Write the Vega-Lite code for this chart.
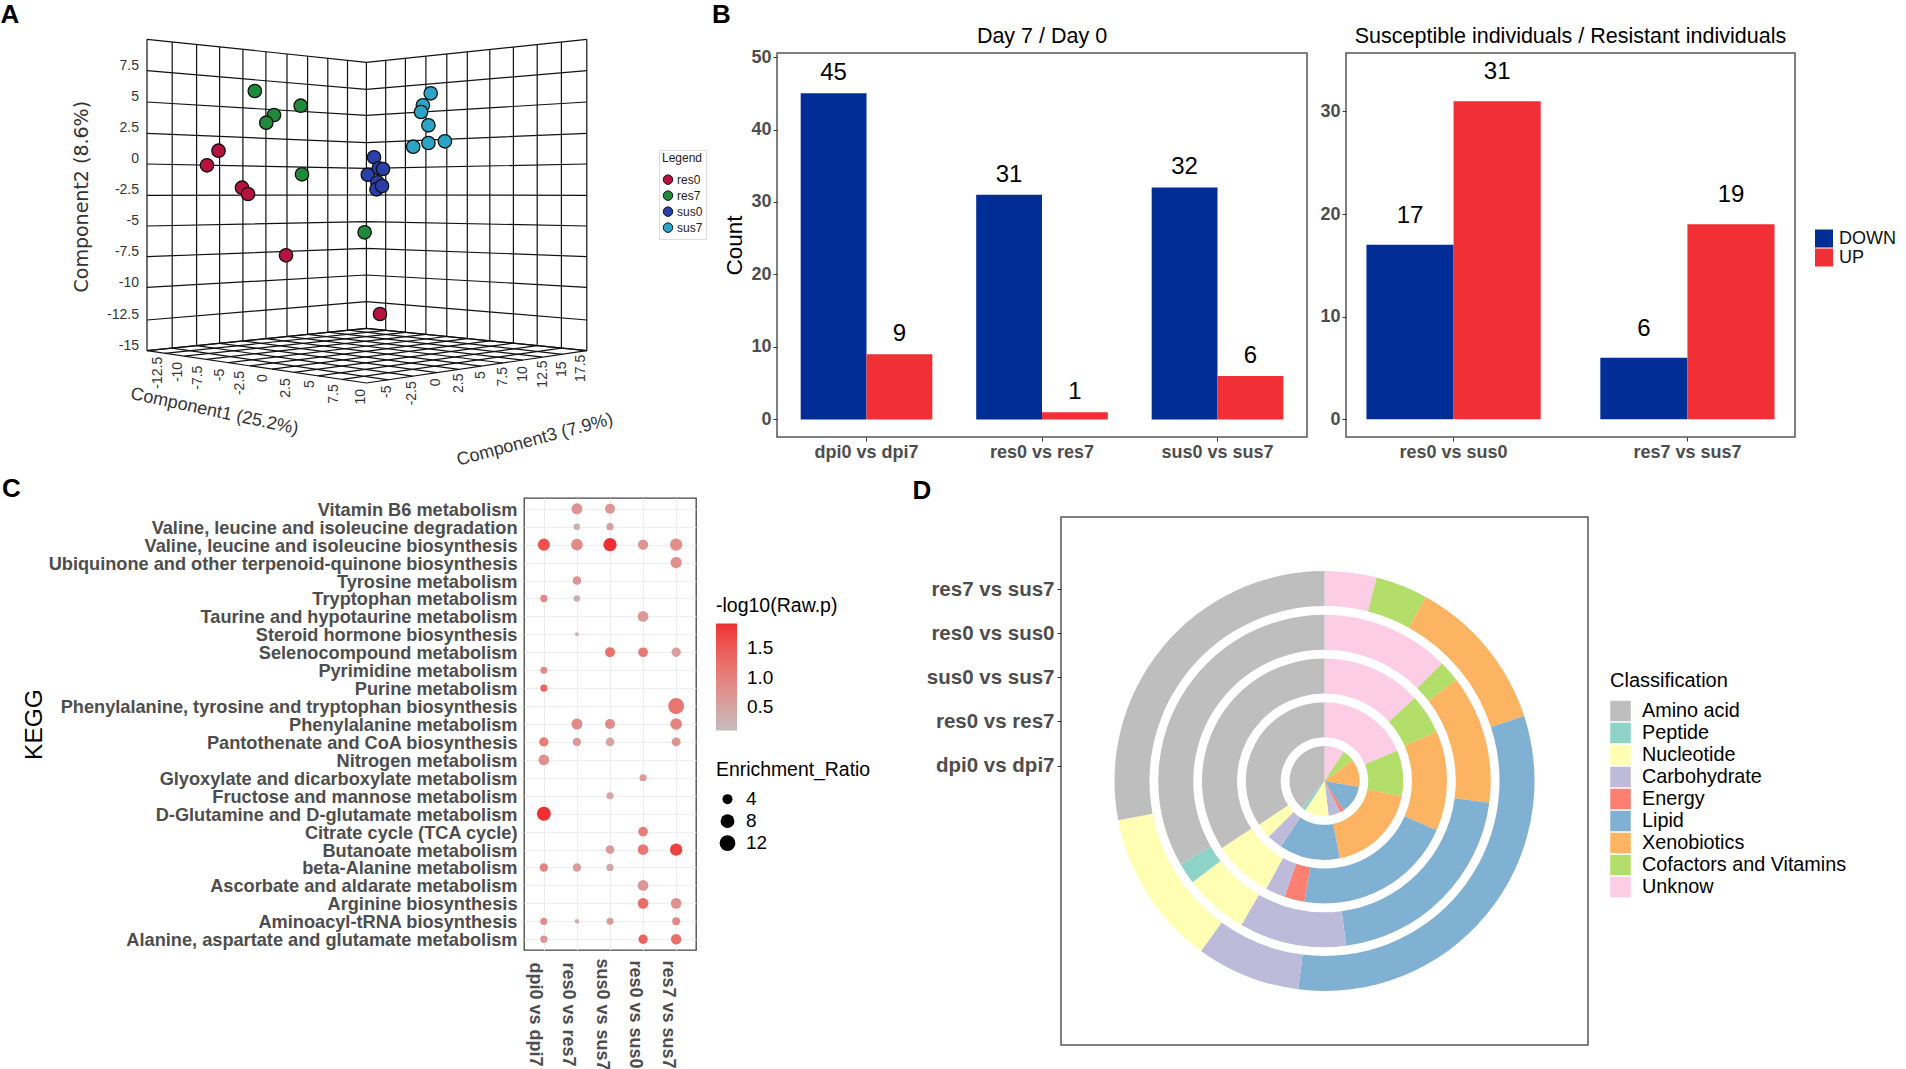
{"$schema":"https://vega.github.io/schema/vega-lite/v6.json","background":"white","padding":0,"bounds":"flush","spacing":0,"resolve":{"scale":{"color":"independent","size":"independent","xOffset":"independent"}},
"config":{"font":"Liberation Sans","view":{"stroke":null},"axis":{"labelColor":"#4d4d4d","labelFontWeight":"bold","tickColor":"#333333"}},
"datasets":{
"grid":[
{"l":"a1","s":0,"x":147,"y":39.3},{"l":"a1","s":1,"x":147,"y":350.7},{"l":"a2","s":0,"x":172.2,"y":41.9},{"l":"a2","s":1,"x":172.2,"y":348.1},{"l":"a3","s":0,"x":196.6,"y":44.5},{"l":"a3","s":1,"x":196.6,"y":345.6},{"l":"a4","s":0,"x":219.6,"y":46.9},{"l":"a4","s":1,"x":219.6,"y":343.3},{"l":"a5","s":0,"x":242.9,"y":49.4},{"l":"a5","s":1,"x":242.9,"y":340.9},{"l":"a6","s":0,"x":265.9,"y":51.8},{"l":"a6","s":1,"x":265.9,"y":338.6},{"l":"a7","s":0,"x":287,"y":54},{"l":"a7","s":1,"x":287,"y":336.4},{"l":"a8","s":0,"x":307.6,"y":56.1},{"l":"a8","s":1,"x":307.6,"y":334.3},{"l":"a9","s":0,"x":327.8,"y":58.3},{"l":"a9","s":1,"x":327.8,"y":332.2},{"l":"a10","s":0,"x":347.5,"y":60.3},{"l":"a10","s":1,"x":347.5,"y":330.2},{"l":"a11","s":0,"x":366.4,"y":62.3},{"l":"a11","s":1,"x":366.4,"y":328.3},
{"l":"b1","s":0,"x":385.7,"y":60.3},{"l":"b1","s":1,"x":385.7,"y":330.3},{"l":"b2","s":0,"x":405.4,"y":58.2},{"l":"b2","s":1,"x":405.4,"y":332.3},{"l":"b3","s":0,"x":425.9,"y":56.1},{"l":"b3","s":1,"x":425.9,"y":334.3},{"l":"b4","s":0,"x":446.8,"y":53.9},{"l":"b4","s":1,"x":446.8,"y":336.5},{"l":"b5","s":0,"x":467.3,"y":51.8},{"l":"b5","s":1,"x":467.3,"y":338.6},{"l":"b6","s":0,"x":489.8,"y":49.4},{"l":"b6","s":1,"x":489.8,"y":340.8},{"l":"b7","s":0,"x":513.4,"y":47},{"l":"b7","s":1,"x":513.4,"y":343.2},{"l":"b8","s":0,"x":537.2,"y":44.5},{"l":"b8","s":1,"x":537.2,"y":345.7},{"l":"b9","s":0,"x":561.4,"y":41.9},{"l":"b9","s":1,"x":561.4,"y":348.1},{"l":"b10","s":0,"x":586.8,"y":39.3},{"l":"b10","s":1,"x":586.8,"y":350.7},
{"l":"h1","s":0,"x":147,"y":39.3},{"l":"h1","s":1,"x":366.4,"y":62.3},{"l":"h1","s":2,"x":586.8,"y":39.3},{"l":"h2","s":0,"x":147,"y":70.7},{"l":"h2","s":1,"x":366.4,"y":89.3},{"l":"h2","s":2,"x":586.8,"y":70.7},{"l":"h3","s":0,"x":147,"y":102},{"l":"h3","s":1,"x":366.4,"y":115.3},{"l":"h3","s":2,"x":586.8,"y":102},{"l":"h4","s":0,"x":147,"y":133.3},{"l":"h4","s":1,"x":366.4,"y":142.7},{"l":"h4","s":2,"x":586.8,"y":133.3},{"l":"h5","s":0,"x":147,"y":164},{"l":"h5","s":1,"x":366.4,"y":168.3},{"l":"h5","s":2,"x":586.8,"y":164},{"l":"h6","s":0,"x":147,"y":195.3},{"l":"h6","s":1,"x":366.4,"y":195},{"l":"h6","s":2,"x":586.8,"y":195.3},{"l":"h7","s":0,"x":147,"y":226},{"l":"h7","s":1,"x":366.4,"y":221.7},{"l":"h7","s":2,"x":586.8,"y":226},{"l":"h8","s":0,"x":147,"y":256.7},{"l":"h8","s":1,"x":366.4,"y":248.3},{"l":"h8","s":2,"x":586.8,"y":256.7},{"l":"h9","s":0,"x":147,"y":287.3},{"l":"h9","s":1,"x":366.4,"y":275},{"l":"h9","s":2,"x":586.8,"y":287.3},{"l":"h10","s":0,"x":147,"y":320},{"l":"h10","s":1,"x":366.4,"y":301.7},{"l":"h10","s":2,"x":586.8,"y":320},{"l":"h11","s":0,"x":147,"y":350.7},{"l":"h11","s":1,"x":366.4,"y":328.3},{"l":"h11","s":2,"x":586.8,"y":350.7},
{"l":"p0","s":0,"x":147,"y":350.7},{"l":"p0","s":1,"x":366.4,"y":383},{"l":"p1","s":0,"x":172.2,"y":348.1},{"l":"p1","s":1,"x":388.4,"y":379.8},{"l":"p2","s":0,"x":196.6,"y":345.6},{"l":"p2","s":1,"x":412.7,"y":376.2},{"l":"p3","s":0,"x":219.6,"y":343.3},{"l":"p3","s":1,"x":436.9,"y":372.7},{"l":"p4","s":0,"x":242.9,"y":340.9},{"l":"p4","s":1,"x":459,"y":369.4},{"l":"p5","s":0,"x":265.9,"y":338.6},{"l":"p5","s":1,"x":481,"y":366.2},{"l":"p6","s":0,"x":287,"y":336.4},{"l":"p6","s":1,"x":503,"y":363},{"l":"p7","s":0,"x":307.6,"y":334.3},{"l":"p7","s":1,"x":522.9,"y":360.1},{"l":"p8","s":0,"x":327.8,"y":332.2},{"l":"p8","s":1,"x":542.7,"y":357.2},{"l":"p9","s":0,"x":347.5,"y":330.2},{"l":"p9","s":1,"x":562.6,"y":354.3},{"l":"p10","s":0,"x":366.4,"y":328.3},{"l":"p10","s":1,"x":586.8,"y":350.7},
{"l":"q0","s":0,"x":366.4,"y":328.3},{"l":"q0","s":1,"x":147,"y":350.7},{"l":"q1","s":0,"x":385.7,"y":330.3},{"l":"q1","s":1,"x":164.6,"y":353.3},{"l":"q2","s":0,"x":405.4,"y":332.3},{"l":"q2","s":1,"x":184.3,"y":356.2},{"l":"q3","s":0,"x":425.9,"y":334.3},{"l":"q3","s":1,"x":206.2,"y":359.4},{"l":"q4","s":0,"x":446.8,"y":336.5},{"l":"q4","s":1,"x":228.2,"y":362.7},{"l":"q5","s":0,"x":467.3,"y":338.6},{"l":"q5","s":1,"x":250.1,"y":365.9},{"l":"q6","s":0,"x":489.8,"y":340.8},{"l":"q6","s":1,"x":272.1,"y":369.1},{"l":"q7","s":0,"x":513.4,"y":343.2},{"l":"q7","s":1,"x":294,"y":372.3},{"l":"q8","s":0,"x":537.2,"y":345.7},{"l":"q8","s":1,"x":318.1,"y":375.9},{"l":"q9","s":0,"x":561.4,"y":348.1},{"l":"q9","s":1,"x":342.3,"y":379.4},{"l":"q10","s":0,"x":586.8,"y":350.7},{"l":"q10","s":1,"x":366.4,"y":383}],
"down":[{"comparison":"dpi0 vs dpi7","direction":"DOWN","count":45},{"comparison":"dpi0 vs dpi7","direction":"UP","count":9},{"comparison":"res0 vs res7","direction":"DOWN","count":31},{"comparison":"res0 vs res7","direction":"UP","count":1},{"comparison":"sus0 vs sus7","direction":"DOWN","count":32},{"comparison":"sus0 vs sus7","direction":"UP","count":6}],
"between":[{"comparison":"res0 vs sus0","direction":"DOWN","count":17},{"comparison":"res0 vs sus0","direction":"UP","count":31},{"comparison":"res7 vs sus7","direction":"DOWN","count":6},{"comparison":"res7 vs sus7","direction":"UP","count":19}]
},
"hconcat":[
{"bounds":"flush","spacing":0,"resolve":{"scale":{"color":"independent","size":"independent","xOffset":"independent"}},"vconcat":[
{"width":738,"height":480,
"encoding":{"x":{"field":"x","type":"quantitative","axis":null,"scale":{"domain":[0,738],"nice":false,"zero":false}},"y":{"field":"y","type":"quantitative","axis":null,"scale":{"domain":[480,0],"nice":false,"zero":false}}},
"layer":[
{"data":{"name":"grid"},"mark":{"type":"line","color":"#111111","strokeWidth":1.2},"encoding":{"detail":{"field":"l"},"order":{"field":"s"}}},
{"data":{"values":[
{"x":218.5,"y":150.7,"group":"res0"},{"x":207,"y":165.3,"group":"res0"},{"x":242,"y":187.7,"group":"res0"},{"x":248,"y":194,"group":"res0"},{"x":286,"y":255.3,"group":"res0"},{"x":380,"y":314,"group":"res0"},
{"x":254.8,"y":91,"group":"res7"},{"x":300.7,"y":105.7,"group":"res7"},{"x":274,"y":115,"group":"res7"},{"x":266.3,"y":122.7,"group":"res7"},{"x":302,"y":174.3,"group":"res7"},{"x":364.6,"y":232.3,"group":"res7"},
{"x":374,"y":157.3,"group":"sus0"},{"x":378.8,"y":168.3,"group":"sus0"},{"x":383,"y":169,"group":"sus0"},{"x":367.8,"y":174.7,"group":"sus0"},{"x":377.4,"y":182.3,"group":"sus0"},{"x":376.5,"y":189.3,"group":"sus0"},{"x":382,"y":186,"group":"sus0"},
{"x":430.7,"y":93.3,"group":"sus7"},{"x":422.9,"y":105.3,"group":"sus7"},{"x":421,"y":112,"group":"sus7"},{"x":428.4,"y":125.3,"group":"sus7"},{"x":444.9,"y":141.3,"group":"sus7"},{"x":428.4,"y":143,"group":"sus7"},{"x":413.2,"y":146.7,"group":"sus7"}]},
"mark":{"type":"point","filled":true,"size":180,"stroke":"#111111","strokeWidth":1.3,"opacity":1},
"encoding":{"color":{"field":"group","type":"nominal","scale":{"domain":["res0","res7","sus0","sus7"],"range":["#b5123f","#1e8a3a","#2a3fa8","#2aa5c5"]},"legend":{"orient":"none","legendX":659,"legendY":150,"title":"Legend","titleFontSize":12,"titleFontWeight":"normal","titleColor":"#222222","titlePadding":7,"labelFontSize":12,"labelColor":"#222222","symbolType":"circle","symbolSize":90,"symbolStrokeColor":"#111111","symbolStrokeWidth":1,"symbolOpacity":1,"clipHeight":15.3,"rowPadding":0,"labelOffset":3,"padding":3,"strokeColor":"#dddddd"}}}},
{"data":{"values":[{"t":"7.5","x":139,"y":66},{"t":"5","x":139,"y":96.7},{"t":"2.5","x":139,"y":128},{"t":"0","x":139,"y":159},{"t":"-2.5","x":139,"y":190},{"t":"-5","x":139,"y":221},{"t":"-7.5","x":139,"y":252},{"t":"-10","x":139,"y":283},{"t":"-12.5","x":139,"y":315},{"t":"-15","x":139,"y":345.7}]},
"mark":{"type":"text","align":"right","baseline":"middle","fontSize":14,"color":"#333333"},"encoding":{"text":{"field":"t"}}},
{"data":{"values":[{"t":"-12.5","x":158.4,"y":372.7},{"t":"-10","x":178,"y":372},{"t":"-7.5","x":198.3,"y":377.7},{"t":"-5","x":219.5,"y":375},{"t":"-2.5","x":240,"y":383},{"t":"0","x":262.6,"y":378},{"t":"2.5","x":285.6,"y":388},{"t":"5","x":310,"y":384},{"t":"7.5","x":334,"y":394},{"t":"10","x":361,"y":396.7},{"t":"-5","x":387,"y":391.7},{"t":"-2.5","x":411.8,"y":393.3},{"t":"0","x":436,"y":382.3},{"t":"2.5","x":459,"y":383.3},{"t":"5","x":480.7,"y":375},{"t":"7.5","x":502.8,"y":376.7},{"t":"10","x":523.4,"y":374},{"t":"12.5","x":543,"y":374},{"t":"15","x":562.4,"y":369.3},{"t":"17.5","x":580.8,"y":368.3}]},
"mark":{"type":"text","align":"center","baseline":"middle","fontSize":14,"angle":270,"color":"#333333"},"encoding":{"text":{"field":"t"}}},
{"data":{"values":[{"t":"Component1 (25.2%)","x":214.4,"y":411.7}]},"mark":{"type":"text","fontSize":18,"angle":12,"baseline":"middle","color":"#333333"},"encoding":{"text":{"field":"t"}}},
{"data":{"values":[{"t":"Component3 (7.9%)","x":535,"y":440}]},"mark":{"type":"text","fontSize":18,"angle":345,"baseline":"middle","color":"#333333"},"encoding":{"text":{"field":"t"}}},
{"data":{"values":[{"t":"Component2 (8.6%)","x":81.7,"y":196.7}]},"mark":{"type":"text","font":"DejaVu Sans","fontSize":19,"angle":270,"baseline":"middle","color":"#333333"},"encoding":{"text":{"field":"t"}}},
{"data":{"values":[{"t":"A","x":10,"y":15},{"t":"B","x":721.5,"y":15},{"t":"C","x":11.5,"y":489},{"t":"D","x":922,"y":490.5}]},"mark":{"type":"text","fontSize":26,"fontWeight":"bold","baseline":"middle","color":"#000000"},"encoding":{"text":{"field":"t"}}}
]}]},
{"bounds":"flush","spacing":0,"resolve":{"scale":{"color":"independent","size":"independent","xOffset":"independent"}},"hconcat":[{"width":777,"height":1,"data":{"values":[{"a":1}]},"mark":{"type":"point","opacity":0,"size":1}},{"bounds":"flush","spacing":0,"resolve":{"scale":{"color":"independent","size":"independent","xOffset":"independent"}},"vconcat":[{"width":1,"height":53,"data":{"values":[{"a":1}]},"mark":{"type":"point","opacity":0,"size":1}},
{"width":530,"height":384,"data":{"name":"down"},"title":{"text":"Day 7 / Day 0","fontSize":21.5,"fontWeight":"normal","offset":1,"anchor":"middle"},"view":{"stroke":"#555555","strokeWidth":1.5},
"encoding":{"x":{"field":"comparison","type":"nominal","title":null,"scale":{"paddingInner":0.25,"paddingOuter":0.135},"axis":{"labelAngle":0,"labelFontSize":18,"tickSize":4,"labelPadding":2,"domain":false,"grid":false}},
"xOffset":{"field":"direction","type":"nominal"},
"y":{"field":"count","type":"quantitative","stack":null,"scale":{"domain":[-2.43,50.56],"nice":false,"zero":false},"axis":{"values":[0,10,20,30,40,50],"labelFontSize":18,"tickSize":4,"labelPadding":2,"domain":false,"grid":false,"title":"Count","titleFontSize":22.5,"titleFontWeight":"normal","titleColor":"#000000","titleX":-31,"titleY":192}}},
"layer":[{"mark":{"type":"bar"},"encoding":{"y2":{"datum":0},"color":{"field":"direction","type":"nominal","scale":{"domain":["DOWN","UP"],"range":["#002e96","#f13035"]},"legend":null}}},
{"mark":{"type":"text","fontSize":24,"dy":-20,"baseline":"middle","color":"#000000"},"encoding":{"text":{"field":"count","type":"quantitative"}}}]}]}]},
{"bounds":"flush","spacing":0,"resolve":{"scale":{"color":"independent","size":"independent","xOffset":"independent"}},"hconcat":[{"width":1346,"height":1,"data":{"values":[{"a":1}]},"mark":{"type":"point","opacity":0,"size":1}},{"bounds":"flush","spacing":0,"resolve":{"scale":{"color":"independent","size":"independent","xOffset":"independent"}},"vconcat":[{"width":1,"height":53,"data":{"values":[{"a":1}]},"mark":{"type":"point","opacity":0,"size":1}},
{"width":449,"height":384,"data":{"name":"between"},"title":{"text":"Susceptible individuals / Resistant individuals","fontSize":21.5,"fontWeight":"normal","offset":6,"anchor":"middle"},"view":{"stroke":"#555555","strokeWidth":1.5},
"encoding":{"x":{"field":"comparison","type":"nominal","title":null,"scale":{"paddingInner":0.255,"paddingOuter":0.0875},"axis":{"labelAngle":0,"labelFontSize":18,"tickSize":4,"labelPadding":2,"domain":false,"grid":false}},
"xOffset":{"field":"direction","type":"nominal"},
"y":{"field":"count","type":"quantitative","stack":null,"title":null,"scale":{"domain":[-1.73,35.7],"nice":false,"zero":false},"axis":{"values":[0,10,20,30],"labelFontSize":18,"tickSize":4,"labelPadding":2,"domain":false,"grid":false}}},
"layer":[{"mark":{"type":"bar"},"encoding":{"y2":{"datum":0},"color":{"field":"direction","type":"nominal","scale":{"domain":["DOWN","UP"],"range":["#002e96","#f13035"]},"legend":{"orient":"none","legendX":469,"legendY":176,"title":null,"symbolType":"square","symbolSize":324,"symbolStrokeWidth":0,"symbolOpacity":1,"labelFontSize":18,"labelColor":"#111111","clipHeight":19,"rowPadding":0,"labelOffset":6}}}},
{"mark":{"type":"text","fontSize":24,"dy":-29,"baseline":"middle","color":"#000000"},"encoding":{"text":{"field":"count","type":"quantitative"}}}]}]}]},
{"bounds":"flush","spacing":0,"resolve":{"scale":{"color":"independent","size":"independent","xOffset":"independent"}},"hconcat":[{"width":524,"height":1,"data":{"values":[{"a":1}]},"mark":{"type":"point","opacity":0,"size":1}},{"bounds":"flush","spacing":0,"resolve":{"scale":{"color":"independent","size":"independent","xOffset":"independent"}},"vconcat":[{"width":1,"height":498,"data":{"values":[{"a":1}]},"mark":{"type":"point","opacity":0,"size":1}},
{"width":172,"height":452,"view":{"stroke":"#444444","strokeWidth":1.3},
"data":{"values":[
{"p":"Vitamin B6 metabolism","c":"res0 vs res7","ratio":4.9,"log":0.7},{"p":"Vitamin B6 metabolism","c":"sus0 vs sus7","ratio":4,"log":0.7},
{"p":"Valine, leucine and isoleucine degradation","c":"res0 vs res7","ratio":2,"log":0.25},{"p":"Valine, leucine and isoleucine degradation","c":"sus0 vs sus7","ratio":2.3,"log":0.55},
{"p":"Valine, leucine and isoleucine biosynthesis","c":"dpi0 vs dpi7","ratio":6,"log":1.6},{"p":"Valine, leucine and isoleucine biosynthesis","c":"res0 vs res7","ratio":5.6,"log":0.85},{"p":"Valine, leucine and isoleucine biosynthesis","c":"sus0 vs sus7","ratio":7.4,"log":1.9},{"p":"Valine, leucine and isoleucine biosynthesis","c":"res0 vs sus0","ratio":4.3,"log":0.7},{"p":"Valine, leucine and isoleucine biosynthesis","c":"res7 vs sus7","ratio":6.3,"log":0.8},
{"p":"Ubiquinone and other terpenoid-quinone biosynthesis","c":"res7 vs sus7","ratio":5.2,"log":0.8},
{"p":"Tyrosine metabolism","c":"res0 vs res7","ratio":3.1,"log":0.7},
{"p":"Tryptophan metabolism","c":"dpi0 vs dpi7","ratio":2.3,"log":0.9},{"p":"Tryptophan metabolism","c":"res0 vs res7","ratio":2,"log":0.35},
{"p":"Taurine and hypotaurine metabolism","c":"res0 vs sus0","ratio":4.6,"log":0.65},
{"p":"Steroid hormone biosynthesis","c":"res0 vs res7","ratio":1,"log":0.2},
{"p":"Selenocompound metabolism","c":"sus0 vs sus7","ratio":4,"log":1.2},{"p":"Selenocompound metabolism","c":"res0 vs sus0","ratio":3.8,"log":1.15},{"p":"Selenocompound metabolism","c":"res7 vs sus7","ratio":3.5,"log":0.55},
{"p":"Pyrimidine metabolism","c":"dpi0 vs dpi7","ratio":2.2,"log":0.85},
{"p":"Purine metabolism","c":"dpi0 vs dpi7","ratio":2.2,"log":1.35},
{"p":"Phenylalanine, tyrosine and tryptophan biosynthesis","c":"res7 vs sus7","ratio":12.6,"log":1.15},
{"p":"Phenylalanine metabolism","c":"res0 vs res7","ratio":4.9,"log":0.85},{"p":"Phenylalanine metabolism","c":"sus0 vs sus7","ratio":4,"log":0.85},{"p":"Phenylalanine metabolism","c":"res7 vs sus7","ratio":5.6,"log":0.95},
{"p":"Pantothenate and CoA biosynthesis","c":"dpi0 vs dpi7","ratio":3.5,"log":1.05},{"p":"Pantothenate and CoA biosynthesis","c":"res0 vs res7","ratio":2.9,"log":0.65},{"p":"Pantothenate and CoA biosynthesis","c":"sus0 vs sus7","ratio":3.1,"log":0.5},{"p":"Pantothenate and CoA biosynthesis","c":"res7 vs sus7","ratio":3.3,"log":0.7},
{"p":"Nitrogen metabolism","c":"dpi0 vs dpi7","ratio":4.6,"log":0.75},
{"p":"Glyoxylate and dicarboxylate metabolism","c":"res0 vs sus0","ratio":2.2,"log":0.65},
{"p":"Fructose and mannose metabolism","c":"sus0 vs sus7","ratio":2.2,"log":0.45},
{"p":"D-Glutamine and D-glutamate metabolism","c":"dpi0 vs dpi7","ratio":8.4,"log":1.9},
{"p":"Citrate cycle (TCA cycle)","c":"res0 vs sus0","ratio":3.8,"log":1.05},
{"p":"Butanoate metabolism","c":"sus0 vs sus7","ratio":3.1,"log":0.6},{"p":"Butanoate metabolism","c":"res0 vs sus0","ratio":4.6,"log":1.15},{"p":"Butanoate metabolism","c":"res7 vs sus7","ratio":6.3,"log":1.75},
{"p":"beta-Alanine metabolism","c":"dpi0 vs dpi7","ratio":2.9,"log":0.95},{"p":"beta-Alanine metabolism","c":"res0 vs res7","ratio":2.9,"log":0.6},{"p":"beta-Alanine metabolism","c":"sus0 vs sus7","ratio":2.3,"log":0.45},
{"p":"Ascorbate and aldarate metabolism","c":"res0 vs sus0","ratio":4.6,"log":0.7},
{"p":"Arginine biosynthesis","c":"res0 vs sus0","ratio":4.6,"log":1.25},{"p":"Arginine biosynthesis","c":"res7 vs sus7","ratio":4.6,"log":0.75},
{"p":"Aminoacyl-tRNA biosynthesis","c":"dpi0 vs dpi7","ratio":2.3,"log":0.8},{"p":"Aminoacyl-tRNA biosynthesis","c":"res0 vs res7","ratio":1.2,"log":0.3},{"p":"Aminoacyl-tRNA biosynthesis","c":"sus0 vs sus7","ratio":2.2,"log":0.6},{"p":"Aminoacyl-tRNA biosynthesis","c":"res7 vs sus7","ratio":2.7,"log":0.85},
{"p":"Alanine, aspartate and glutamate metabolism","c":"dpi0 vs dpi7","ratio":2.3,"log":0.7},{"p":"Alanine, aspartate and glutamate metabolism","c":"res0 vs sus0","ratio":3.5,"log":1.4},{"p":"Alanine, aspartate and glutamate metabolism","c":"res7 vs sus7","ratio":4.3,"log":1.25}]},
"mark":{"type":"point","filled":true,"opacity":1},
"encoding":{
"x":{"field":"c","type":"nominal","title":null,"sort":["dpi0 vs dpi7","res0 vs res7","sus0 vs sus7","res0 vs sus0","res7 vs sus7"],"scale":{"type":"point","padding":0.6},"axis":{"labelAngle":90,"labelAlign":"center","labelBaseline":"top","labelFontSize":18,"tickSize":0,"labelPadding":64,"domain":false,"grid":true,"gridColor":"#ededed"}},
"y":{"field":"p","type":"nominal","sort":["Vitamin B6 metabolism","Valine, leucine and isoleucine degradation","Valine, leucine and isoleucine biosynthesis","Ubiquinone and other terpenoid-quinone biosynthesis","Tyrosine metabolism","Tryptophan metabolism","Taurine and hypotaurine metabolism","Steroid hormone biosynthesis","Selenocompound metabolism","Pyrimidine metabolism","Purine metabolism","Phenylalanine, tyrosine and tryptophan biosynthesis","Phenylalanine metabolism","Pantothenate and CoA biosynthesis","Nitrogen metabolism","Glyoxylate and dicarboxylate metabolism","Fructose and mannose metabolism","D-Glutamine and D-glutamate metabolism","Citrate cycle (TCA cycle)","Butanoate metabolism","beta-Alanine metabolism","Ascorbate and aldarate metabolism","Arginine biosynthesis","Aminoacyl-tRNA biosynthesis","Alanine, aspartate and glutamate metabolism"],"scale":{"type":"point","padding":0.6},"axis":{"title":"KEGG","titleFontSize":24.5,"titleFontWeight":"normal","titleColor":"#000000","titleX":-478,"titleY":226,"labelFontSize":18.2,"labelLimit":600,"labelOffset":1.5,"tickSize":0,"labelPadding":7,"domain":false,"grid":true,"gridColor":"#ededed","labelOverlap":false}},
"color":{"field":"log","type":"quantitative","scale":{"domain":[0.107,1.91],"range":["#c4bcbc","#ee2f33"]},"legend":{"orient":"none","legendX":192,"legendY":99,"title":"-log10(Raw.p)","titleFontSize":19.5,"titleFontWeight":"normal","titleColor":"#000000","titlePadding":7,"gradientLength":107,"gradientThickness":21,"values":[0.5,1,1.5],"format":".1f","labelFontSize":19,"labelColor":"#000000","labelOffset":10}},
"size":{"field":"ratio","type":"quantitative","scale":{"domain":[1,4,8,12,14],"range":[16,100,190,245,280]},"legend":{"orient":"none","legendX":192,"legendY":263,"title":"Enrichment_Ratio","titleFontSize":19.4,"titleFontWeight":"normal","titleColor":"#000000","titlePadding":8,"values":[4,8,12],"symbolFillColor":"#000000","symbolStrokeWidth":0,"symbolOpacity":1,"symbolOffset":2,"labelFontSize":19,"labelColor":"#000000","labelOffset":9,"clipHeight":21.5,"rowPadding":0}}}}]}]},
{"bounds":"flush","spacing":0,"resolve":{"scale":{"color":"independent","size":"independent","xOffset":"independent"}},"hconcat":[{"width":1061,"height":1,"data":{"values":[{"a":1}]},"mark":{"type":"point","opacity":0,"size":1}},{"bounds":"flush","spacing":0,"resolve":{"scale":{"color":"independent","size":"independent","xOffset":"independent"}},"vconcat":[{"width":1,"height":517,"data":{"values":[{"a":1}]},"mark":{"type":"point","opacity":0,"size":1}},
{"width":527,"height":528,"view":{"stroke":"#555555","strokeWidth":1.5},
"data":{"values":[
{"comparison":"res7 vs sus7","class":"Unknow","rank":1,"n":1},{"comparison":"res7 vs sus7","class":"Cofactors and Vitamins","rank":2,"n":1},{"comparison":"res7 vs sus7","class":"Xenobiotics","rank":3,"n":3},{"comparison":"res7 vs sus7","class":"Lipid","rank":4,"n":8},{"comparison":"res7 vs sus7","class":"Carbohydrate","rank":6,"n":2},{"comparison":"res7 vs sus7","class":"Nucleotide","rank":7,"n":3},{"comparison":"res7 vs sus7","class":"Amino acid","rank":9,"n":7},
{"comparison":"res0 vs sus0","class":"Unknow","rank":1,"n":6},{"comparison":"res0 vs sus0","class":"Cofactors and Vitamins","rank":2,"n":1},{"comparison":"res0 vs sus0","class":"Xenobiotics","rank":3,"n":6},{"comparison":"res0 vs sus0","class":"Lipid","rank":4,"n":10},{"comparison":"res0 vs sus0","class":"Carbohydrate","rank":6,"n":5},{"comparison":"res0 vs sus0","class":"Nucleotide","rank":7,"n":3},{"comparison":"res0 vs sus0","class":"Peptide","rank":8,"n":1},{"comparison":"res0 vs sus0","class":"Amino acid","rank":9,"n":16},
{"comparison":"sus0 vs sus7","class":"Unknow","rank":1,"n":5},{"comparison":"sus0 vs sus7","class":"Cofactors and Vitamins","rank":2,"n":2},{"comparison":"sus0 vs sus7","class":"Xenobiotics","rank":3,"n":5},{"comparison":"sus0 vs sus7","class":"Lipid","rank":4,"n":8},{"comparison":"sus0 vs sus7","class":"Energy","rank":5,"n":1},{"comparison":"sus0 vs sus7","class":"Carbohydrate","rank":6,"n":1},{"comparison":"sus0 vs sus7","class":"Nucleotide","rank":7,"n":3},{"comparison":"sus0 vs sus7","class":"Amino acid","rank":9,"n":13},
{"comparison":"res0 vs res7","class":"Unknow","rank":1,"n":6},{"comparison":"res0 vs res7","class":"Cofactors and Vitamins","rank":2,"n":3},{"comparison":"res0 vs res7","class":"Xenobiotics","rank":3,"n":6},{"comparison":"res0 vs res7","class":"Lipid","rank":4,"n":4},{"comparison":"res0 vs res7","class":"Carbohydrate","rank":6,"n":1},{"comparison":"res0 vs res7","class":"Nucleotide","rank":7,"n":1},{"comparison":"res0 vs res7","class":"Amino acid","rank":9,"n":11},
{"comparison":"dpi0 vs dpi7","class":"Unknow","rank":1,"n":5},{"comparison":"dpi0 vs dpi7","class":"Cofactors and Vitamins","rank":2,"n":3},{"comparison":"dpi0 vs dpi7","class":"Xenobiotics","rank":3,"n":7},{"comparison":"dpi0 vs dpi7","class":"Lipid","rank":4,"n":7},{"comparison":"dpi0 vs dpi7","class":"Energy","rank":5,"n":1},{"comparison":"dpi0 vs dpi7","class":"Carbohydrate","rank":6,"n":3},{"comparison":"dpi0 vs dpi7","class":"Nucleotide","rank":7,"n":6},{"comparison":"dpi0 vs dpi7","class":"Peptide","rank":8,"n":1},{"comparison":"dpi0 vs dpi7","class":"Amino acid","rank":9,"n":21}]},
"layer":[
{"mark":{"type":"arc"},"encoding":{"theta":{"field":"n","type":"quantitative","stack":"normalize"},"radius":{"field":"comparison","type":"ordinal","scale":{"type":"band","domain":["dpi0 vs dpi7","res0 vs res7","sus0 vs sus7","res0 vs sus0","res7 vs sus7"],"range":[0,210],"paddingInner":0.2,"paddingOuter":0}},"order":{"field":"rank"},
"color":{"field":"class","type":"nominal","scale":{"domain":["Amino acid","Peptide","Nucleotide","Carbohydrate","Energy","Lipid","Xenobiotics","Cofactors and Vitamins","Unknow"],"range":["#bebebe","#8dd3c7","#ffffb3","#bebada","#fb8072","#80b1d3","#fdb462","#b3de69","#fccde5"]},"legend":{"orient":"none","legendX":549,"legendY":154,"title":"Classification","titleFontSize":20,"titleFontWeight":"normal","titleColor":"#000000","titlePadding":9,"symbolType":"square","symbolSize":420,"symbolStrokeWidth":0,"symbolOpacity":1,"labelFontSize":19.8,"labelColor":"#000000","labelOffset":11,"labelLimit":300,"clipHeight":21.9,"rowPadding":0}}}},
{"mark":{"type":"point","opacity":0},"encoding":{"y":{"field":"comparison","type":"nominal","title":null,"sort":["res7 vs sus7","res0 vs sus0","sus0 vs sus7","res0 vs res7","dpi0 vs dpi7"],"scale":{"type":"point","padding":0,"range":[72,248.5]},"axis":{"labelFontSize":20.5,"tickSize":4,"labelPadding":3,"domain":false,"grid":false}}}}
]}]}]}
]}
